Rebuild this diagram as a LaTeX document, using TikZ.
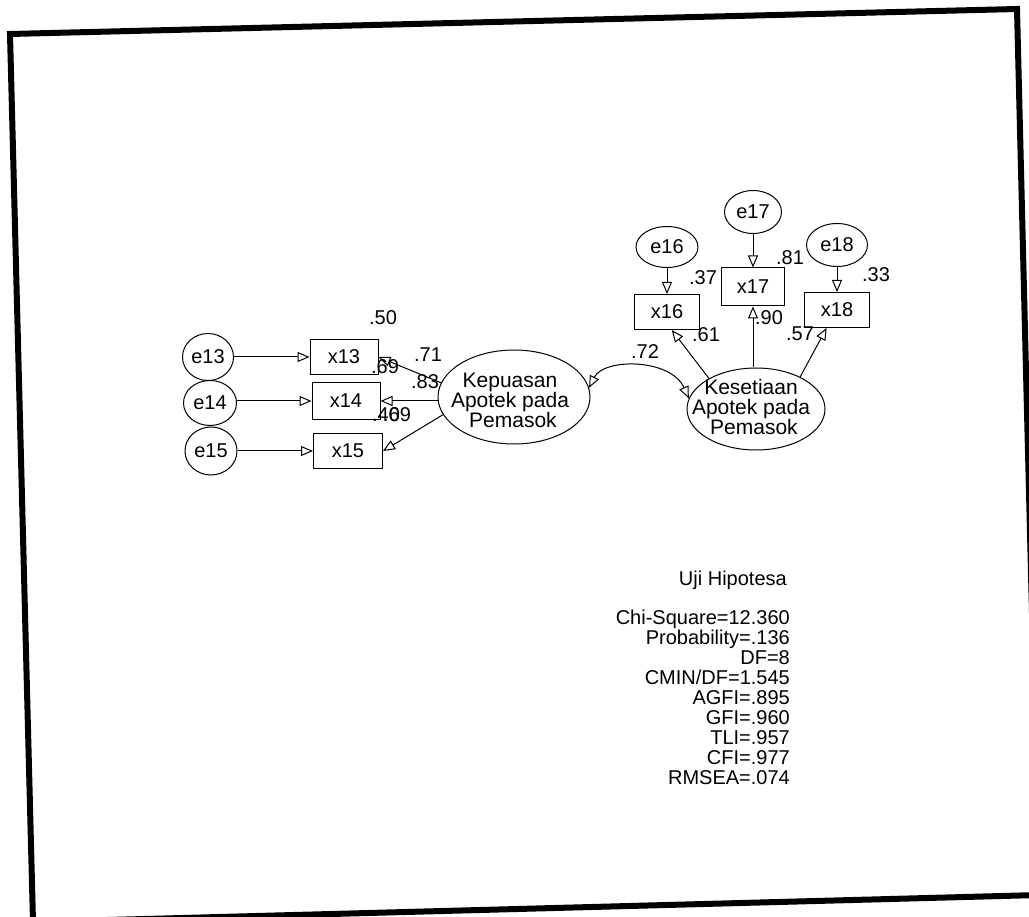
\documentclass[tikz,border=0pt]{standalone}
\usepackage{fontspec}
\setmainfont{Liberation Sans}
\usetikzlibrary{shapes.geometric,arrows.meta}
\begin{document}
\begin{tikzpicture}[x=1pt,y=-1pt,
  every node/.style={font=\fontsize{20}{20}\selectfont},
  err/.style={draw,ellipse,inner sep=0pt,line width=1pt},
  obs/.style={draw,rectangle,inner sep=0pt,line width=1pt},
  lat/.style={draw,ellipse,inner sep=0pt,line width=1pt},
  lattext/.style={align=center,inner sep=0pt,font=\fontsize{21}{20}\selectfont},
  lbl/.style={inner sep=0pt,font=\fontsize{20}{20}\selectfont},
  arr/.style={line width=1pt,-{Triangle[open,length=12pt,width=10pt]}},
  arrb/.style={line width=1pt,{Triangle[open,length=12pt,width=10pt]}-{Triangle[open,length=12pt,width=10pt]}}
]
\useasboundingbox (0,0) rectangle (1029,917);
\begin{scope}
\clip (0,0) rectangle (1029,917);
\coordinate (fTL) at (10,34);
\coordinate (fTR) at (1017,9);
\coordinate (fBR) at (1039,895);
\coordinate (fBL) at (33,922);
\draw[line width=6pt,line join=miter] (fTL) -- (fTR) -- (fBR) -- (fBL) -- cycle;
\end{scope}

% left group
\node[err,minimum width=51pt,minimum height=47pt] (e13) at (208,357) {e13};
\node[err,minimum width=53pt,minimum height=45pt] (e14) at (210,403) {e14};
\node[err,minimum width=52pt,minimum height=48pt] (e15) at (211,451) {e15};
\node[obs,minimum width=68pt,minimum height=35pt] (x13) at (344,357) {x13};
\node[obs,minimum width=68pt,minimum height=37pt] (x14) at (346,401) {x14};
\node[obs,minimum width=69pt,minimum height=35pt] (x15) at (348,451) {x15};
\node[lat,minimum width=152pt,minimum height=94pt] (kep) at (514,397) {};
\node[lattext] (keptext) at (510,400) {Kepuasan\\Apotek pada\\\ Pemasok};

% right group
\node[err,minimum width=62pt,minimum height=41pt] (e16) at (667,247) {e16};
\node[err,minimum width=57pt,minimum height=43pt] (e17) at (753,212) {e17};
\node[err,minimum width=61pt,minimum height=43pt] (e18) at (837,245) {e18};
\node[obs,minimum width=65pt,minimum height=35pt] (x16) at (667,312) {x16};
\node[obs,minimum width=63pt,minimum height=38pt] (x17) at (753,287) {x17};
\node[obs,minimum width=65pt,minimum height=35pt] (x18) at (837,310) {x18};
\node[lat,minimum width=138pt,minimum height=82pt] (kes) at (756,409) {};
\node[lattext] (kestext) at (751,407) {Kesetiaan\\Apotek pada\\\ Pemasok};

% arrows
\draw[arr] (e13) -- (x13);
\draw[arr] (e14.east |- x14.east) -- (x14.east -| x14.west);
\draw[arr] (e15) -- (x15);
\draw[arr] (kep.169) -- (x13.east);
\draw[arr] (kep.west |- x14.east) -- (x14.east);
\draw[arr] (kep.194) -- (x15.east);
\draw[arr] (e16) -- (x16);
\draw[arr] (e17) -- (x17);
\draw[arr] (e18) -- (x18);
\draw[arr] (kes.147) -- (x16.-75);
\draw[arr] (x17.south |- kes.north) -- (x17.south);
\draw[arr] (kes.36) -- (x18.-120);
\draw[arrb] (kep.7) .. controls +(15,-30) and +(-18,-40) .. (kes.171);

% labels
\node[lbl] (l50) at (383,318) {.50};
\node[lbl] (l71) at (428,355) {.71};
\node[lbl] (l69a) at (385,367) {.69};
\node[lbl] (l83) at (425,382) {.83};
\node[lbl] (l40) at (386,415) {.40};
\node[lbl] (l69b) at (397,415) {.69};
\node[lbl] (l72) at (645,352) {.72};
\node[lbl] (l61) at (706,335) {.61};
\node[lbl] (l37) at (703,278) {.37};
\node[lbl] (l81) at (790,258) {.81};
\node[lbl] (l33) at (876,275) {.33};
\node[lbl] (l90) at (769,318) {.90};
\node[lbl] (l57) at (800,334) {.57};

% stats
\node[lbl,anchor=east] (uji) at (787,580) {Uji Hipotesa};
\node[lbl,anchor=north east,align=right] (stats) at (790,610) {Chi-Square=12.360\\Probability=.136\\DF=8\\CMIN/DF=1.545\\AGFI=.895\\GFI=.960\\TLI=.957\\CFI=.977\\RMSEA=.074};
\end{tikzpicture}
\end{document}
